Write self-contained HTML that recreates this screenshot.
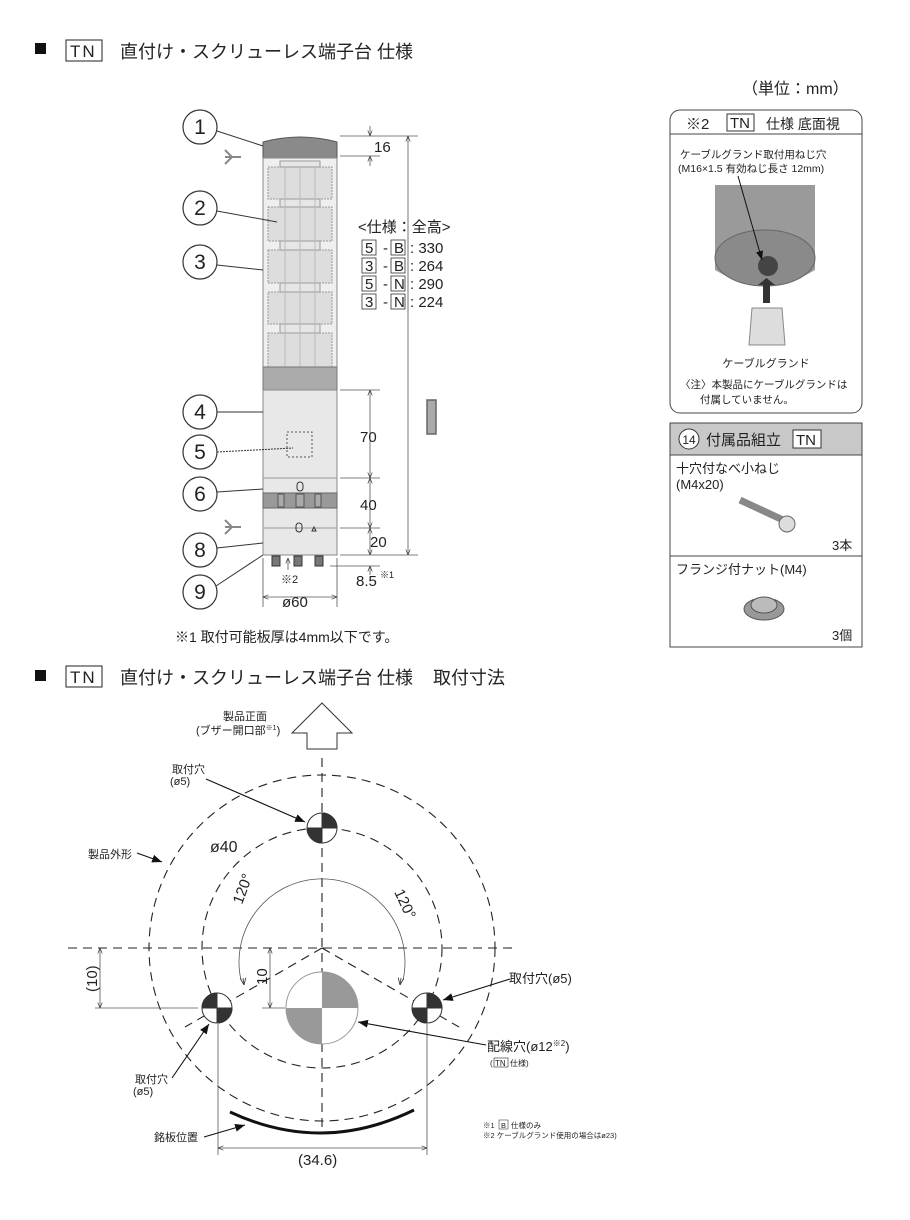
<!DOCTYPE html>
<html><head><meta charset="utf-8"><style>
html,body{margin:0;padding:0;background:#fff;}
svg{display:block;font-family:"Liberation Sans","Noto Sans CJK JP",sans-serif;}
</style></head><body>
<svg width="910" height="1220" viewBox="0 0 910 1220" xmlns="http://www.w3.org/2000/svg">
<defs>
<marker id="a" viewBox="0 0 10 10" refX="10" refY="5" markerWidth="7" markerHeight="7" orient="auto-start-reverse"><path d="M0,1 L10,5 L0,9" fill="none" stroke="#333" stroke-width="1.2"/></marker>
<marker id="f" viewBox="0 0 10 10" refX="10" refY="5" markerWidth="9" markerHeight="9" orient="auto"><path d="M0,1 L10,5 L0,9 z" fill="#111"/></marker>
</defs>
<!-- Title 1 -->
<rect x="35" y="43" width="11" height="11" fill="#111"/>
<rect x="66" y="40" width="36" height="21" fill="none" stroke="#222"/>
<text x="70" y="57" font-size="17" fill="#222" letter-spacing="2">TN</text>
<text x="120" y="58" font-size="18" fill="#222">直付け・スクリューレス端子台 仕様</text>
<text x="742" y="94" font-size="16" fill="#222">（単位：mm）</text>

<!-- Tower -->
<path d="M263,142 Q300,132 337,142 L337,158 L263,158 Z" fill="#8a8a8a" stroke="#555"/>
<rect x="263" y="158" width="74" height="232" fill="#efefef" stroke="#888"/>
<g fill="#ddd" stroke="#999" stroke-dasharray="2,1">
<rect x="268" y="167" width="64" height="32"/><rect x="268" y="207" width="64" height="34"/>
<rect x="268" y="250" width="64" height="33"/><rect x="268" y="292" width="64" height="32"/>
<rect x="268" y="333" width="64" height="34"/>
</g>
<g fill="#e6e6e6" stroke="#999"><rect x="280" y="161" width="40" height="6"/><rect x="280" y="199" width="40" height="8"/><rect x="280" y="241" width="40" height="9"/><rect x="280" y="283" width="40" height="9"/><rect x="280" y="324" width="40" height="9"/></g>
<g stroke="#bbb"><line x1="285" y1="167" x2="285" y2="367"/><line x1="300" y1="167" x2="300" y2="367"/><line x1="315" y1="167" x2="315" y2="367"/></g>
<rect x="263" y="367" width="74" height="23" fill="#aaa" stroke="#777"/>
<path d="M263,390 L337,390 L337,555 L263,555 Z" fill="#e8e8e8" stroke="#888"/>
<rect x="287" y="432" width="25" height="25" fill="none" stroke="#555" stroke-dasharray="2,2"/>
<line x1="263" y1="478" x2="337" y2="478" stroke="#999"/>
<rect x="297" y="482" width="6" height="9" rx="3" fill="none" stroke="#333"/>
<rect x="263" y="493" width="74" height="15" fill="#999" stroke="#666"/>
<g stroke="#555" fill="#aaa"><rect x="278" y="494" width="6" height="13"/><rect x="296" y="494" width="8" height="13"/><rect x="315" y="494" width="6" height="13"/></g>
<line x1="263" y1="528" x2="337" y2="528" stroke="#999"/>
<rect x="296" y="523" width="6" height="9" rx="3" fill="none" stroke="#333"/>
<path d="M312,531 l2,-4 l2,4z" fill="none" stroke="#333"/>
<g fill="#777" stroke="#333"><rect x="272" y="556" width="8" height="10"/><rect x="294" y="556" width="8" height="10"/><rect x="315" y="556" width="8" height="10"/></g>
<path d="M225,157 l16,0 M225,150 l7,7 l-7,7" stroke="#888" fill="none" stroke-width="2"/>
<path d="M225,527 l16,0 M225,520 l7,7 l-7,7" stroke="#888" fill="none" stroke-width="2"/>

<!-- Callouts -->
<g fill="#fff" stroke="#333" stroke-width="1.2">
<circle cx="200" cy="127" r="17"/><circle cx="200" cy="208" r="17"/><circle cx="200" cy="262" r="17"/><circle cx="200" cy="412" r="17"/><circle cx="200" cy="452" r="17"/><circle cx="200" cy="494" r="17"/><circle cx="200" cy="550" r="17"/><circle cx="200" cy="592" r="17"/>
</g>
<g font-size="21" fill="#222" text-anchor="middle">
<text x="200" y="134">1</text><text x="200" y="215">2</text><text x="200" y="269">3</text><text x="200" y="419">4</text><text x="200" y="459">5</text><text x="200" y="501">6</text><text x="200" y="557">8</text><text x="200" y="599">9</text>
</g>
<g stroke="#333" fill="none">
<line x1="217" y1="131" x2="263" y2="146"/><line x1="217" y1="211" x2="277" y2="222"/><line x1="217" y1="265" x2="263" y2="270"/>
<line x1="217" y1="412" x2="263" y2="412"/><path d="M217,452 L293,448" stroke-dasharray="2,1"/><line x1="217" y1="492" x2="263" y2="489"/><line x1="217" y1="548" x2="263" y2="543"/><line x1="216" y1="586" x2="263" y2="555"/>
</g>

<!-- Dimensions -->
<g stroke="#555" fill="none" stroke-width="0.8">
<line x1="340" y1="136" x2="380" y2="136"/><line x1="340" y1="156" x2="380" y2="156"/>
<line x1="370" y1="126" x2="370" y2="136" marker-end="url(#a)"/><line x1="370" y1="166" x2="370" y2="156" marker-end="url(#a)"/>
<line x1="380" y1="136" x2="418" y2="136"/>
<line x1="408" y1="136" x2="408" y2="555" marker-start="url(#a)" marker-end="url(#a)"/>
<line x1="340" y1="390" x2="380" y2="390"/><line x1="340" y1="478" x2="380" y2="478"/><line x1="340" y1="528" x2="380" y2="528"/><line x1="340" y1="555" x2="418" y2="555"/><line x1="330" y1="566" x2="380" y2="566"/>
<line x1="370" y1="390" x2="370" y2="478" marker-start="url(#a)" marker-end="url(#a)"/>
<line x1="370" y1="478" x2="370" y2="528" marker-start="url(#a)" marker-end="url(#a)"/>
<line x1="370" y1="528" x2="370" y2="555" marker-start="url(#a)" marker-end="url(#a)"/>
<line x1="370" y1="575" x2="370" y2="566" marker-end="url(#a)"/>
<line x1="263" y1="558" x2="263" y2="607"/><line x1="337" y1="558" x2="337" y2="607"/>
<line x1="263" y1="597" x2="337" y2="597" marker-start="url(#a)" marker-end="url(#a)"/>
<line x1="288" y1="570" x2="288" y2="558" marker-end="url(#a)"/>
</g>
<g fill="#222" font-size="15">
<text x="374" y="152">16</text><text x="360" y="442">70</text><text x="360" y="510">40</text><text x="370" y="547">20</text>
<text x="356" y="586">8.5</text><text x="380" y="578" font-size="9">※1</text>
<text x="281" y="583" font-size="11">※2</text><text x="282" y="607">ø60</text>
</g>
<g fill="#222" font-size="15">
<text x="358" y="232">&lt;仕様：全高&gt;</text>
<text x="365" y="253">5</text><text x="383" y="253">-</text><text x="394" y="253">B</text><text x="410" y="253">: 330</text>
<text x="365" y="271">3</text><text x="383" y="271">-</text><text x="394" y="271">B</text><text x="410" y="271">: 264</text>
<text x="365" y="289">5</text><text x="383" y="289">-</text><text x="394" y="289">N</text><text x="410" y="289">: 290</text>
<text x="365" y="307">3</text><text x="383" y="307">-</text><text x="394" y="307">N</text><text x="410" y="307">: 224</text>
</g>
<g fill="none" stroke="#333" stroke-width="0.8">
<rect x="362" y="240" width="14" height="15"/><rect x="391" y="240" width="14" height="15"/>
<rect x="362" y="258" width="14" height="15"/><rect x="391" y="258" width="14" height="15"/>
<rect x="362" y="276" width="14" height="15"/><rect x="391" y="276" width="14" height="15"/>
<rect x="362" y="294" width="14" height="15"/><rect x="391" y="294" width="14" height="15"/>
</g>
<rect x="427" y="400" width="9" height="34" fill="#aaa" stroke="#666" stroke-width="1.5"/>
<text x="175" y="642" font-size="14" fill="#222">※1  取付可能板厚は4mm以下です。</text>

<!-- Right panel 1 -->
<rect x="670" y="110" width="192" height="303" rx="10" fill="#fff" stroke="#444"/>
<line x1="670" y1="134" x2="862" y2="134" stroke="#444"/>
<text x="686" y="129" font-size="15" fill="#222">※2</text>
<rect x="727" y="114" width="27" height="17" fill="none" stroke="#333"/>
<text x="730" y="128" font-size="15" fill="#222">TN</text>
<text x="766" y="129" font-size="14" fill="#222">仕様  底面視</text>
<text x="680" y="158" font-size="10.5" fill="#222">ケーブルグランド取付用ねじ穴</text>
<text x="678" y="172" font-size="10.5" fill="#222">(M16×1.5  有効ねじ長さ 12mm)</text>
<path d="M715,185 L815,185 L815,270 Q765,300 715,270 Z" fill="#9a9a9a"/>
<ellipse cx="765" cy="258" rx="50" ry="28" fill="#8a8a8a" stroke="#666"/>
<circle cx="768" cy="266" r="10" fill="#444"/>
<line x1="738" y1="176" x2="762" y2="260" stroke="#111" marker-end="url(#f)"/>
<rect x="763" y="285" width="7" height="18" fill="#333"/><path d="M758,285 l8.5,-7 l8.5,7z" fill="#333"/>
<path d="M752,308 L782,308 L785,345 L749,345 Z" fill="#ddd" stroke="#888"/>
<text x="766" y="367" font-size="11" fill="#222" text-anchor="middle">ケーブルグランド</text>
<text x="680" y="388" font-size="10.5" fill="#222">〈注〉本製品にケーブルグランドは</text>
<text x="700" y="403" font-size="10.5" fill="#222">付属していません。</text>

<!-- Right panel 2 -->
<rect x="670" y="423" width="192" height="224" fill="#fff" stroke="#444"/>
<rect x="670" y="423" width="192" height="32" fill="#c8c8c8" stroke="#444"/>
<circle cx="689" cy="439" r="10" fill="#fff" stroke="#333"/>
<text x="689" y="444" font-size="12" text-anchor="middle" fill="#222">14</text>
<text x="706" y="445" font-size="15" fill="#222">付属品組立</text>
<rect x="793" y="430" width="28" height="18" fill="#fff" stroke="#333"/>
<text x="796" y="445" font-size="15" fill="#222">TN</text>
<text x="676" y="473" font-size="13" fill="#222">十穴付なべ小ねじ</text>
<text x="676" y="489" font-size="13" fill="#222">(M4x20)</text>
<line x1="740" y1="500" x2="783" y2="520" stroke="#888" stroke-width="7"/>
<circle cx="787" cy="524" r="8" fill="#ddd" stroke="#666"/>
<text x="832" y="550" font-size="13" fill="#222">3本</text>
<line x1="670" y1="556" x2="862" y2="556" stroke="#444"/>
<text x="676" y="574" font-size="13" fill="#222">フランジ付ナット(M4)</text>
<ellipse cx="764" cy="609" rx="20" ry="11" fill="#999" stroke="#555"/>
<ellipse cx="764" cy="605" rx="13" ry="8" fill="#bbb" stroke="#555"/>
<text x="832" y="640" font-size="13" fill="#222">3個</text>

<!-- Title 2 -->
<rect x="35" y="670" width="11" height="11" fill="#111"/>
<rect x="66" y="666" width="36" height="21" fill="none" stroke="#222"/>
<text x="70" y="683" font-size="17" fill="#222" letter-spacing="2">TN</text>
<text x="120" y="684" font-size="18" fill="#222">直付け・スクリューレス端子台 仕様</text>
<text x="433" y="684" font-size="18" fill="#222">取付寸法</text>

<!-- Bottom diagram -->
<path d="M322,703 L352,733 L337,733 L337,749 L307,749 L307,733 L292,733 Z" fill="#fff" stroke="#333"/>
<text x="245" y="720" font-size="11" fill="#222" text-anchor="middle">製品正面</text>
<text x="196" y="734" font-size="11" fill="#222">(ブザー開口部<tspan font-size="7" dy="-4">※1</tspan><tspan dy="4">)</tspan></text>
<g fill="none" stroke="#222" stroke-width="1.1" stroke-dasharray="9,6">
<circle cx="322" cy="948" r="173"/>
<circle cx="322" cy="948" r="120"/>
<line x1="322" y1="758" x2="322" y2="1132"/>
<line x1="68" y1="948" x2="518" y2="948"/>
<line x1="322" y1="948" x2="185" y2="1027"/>
<line x1="322" y1="948" x2="459" y2="1027"/>
</g>
<path d="M241,980 A83,83 0 1 1 403,980" fill="none" stroke="#555" stroke-width="0.8"/>
<line x1="244" y1="985" x2="243" y2="978" stroke="#555" marker-start="url(#a)"/>
<line x1="400" y1="985" x2="401" y2="978" stroke="#555" marker-start="url(#a)"/>
<text x="242" y="905" font-size="15" fill="#222" transform="rotate(-70 242 905)">120°</text>
<text x="394" y="892" font-size="15" fill="#222" transform="rotate(65 394 892)">120°</text>
<text x="210" y="852" font-size="16" fill="#222">ø40</text>
<g stroke="#333">
<circle cx="322" cy="828" r="15" fill="#fff"/><path d="M322,828 L322,813 A15,15 0 0 1 337,828 Z M322,828 L322,843 A15,15 0 0 1 307,828 Z" fill="#333"/>
<circle cx="217" cy="1008" r="15" fill="#fff"/><path d="M217,1008 L217,993 A15,15 0 0 0 202,1008 Z M217,1008 L217,1023 A15,15 0 0 0 232,1008 Z" fill="#333"/>
<circle cx="427" cy="1008" r="15" fill="#fff"/><path d="M427,1008 L427,993 A15,15 0 0 1 442,1008 Z M427,1008 L427,1023 A15,15 0 0 1 412,1008 Z" fill="#333"/>
</g>
<circle cx="322" cy="1008" r="36" fill="#fff" stroke="#999"/>
<path d="M322,1008 L322,972 A36,36 0 0 1 358,1008 Z M322,1008 L322,1044 A36,36 0 0 1 286,1008 Z" fill="#999"/>
<g stroke="#555" fill="none" stroke-width="0.8">
<line x1="95" y1="1008" x2="198" y2="1008"/><line x1="100" y1="948" x2="100" y2="1008" marker-start="url(#a)" marker-end="url(#a)"/>
<line x1="262" y1="1008" x2="285" y2="1008"/><line x1="270" y1="948" x2="270" y2="1008" marker-start="url(#a)" marker-end="url(#a)"/>
<line x1="218" y1="1024" x2="218" y2="1155"/><line x1="427" y1="1024" x2="427" y2="1155"/>
<line x1="218" y1="1148" x2="427" y2="1148" marker-start="url(#a)" marker-end="url(#a)"/>
</g>
<text x="97" y="992" font-size="15" fill="#222" transform="rotate(-90 97 992)">(10)</text>
<text x="267" y="985" font-size="15" fill="#222" transform="rotate(-90 267 985)">10</text>
<text x="298" y="1165" font-size="15" fill="#222">(34.6)</text>
<path d="M230,1112 Q322,1155 414,1110" fill="none" stroke="#111" stroke-width="3"/>
<g stroke="#111" stroke-width="1.1" fill="none">
<line x1="206" y1="779" x2="305" y2="822" marker-end="url(#f)"/>
<line x1="137" y1="853" x2="162" y2="862" marker-end="url(#f)"/>
<line x1="510" y1="979" x2="443" y2="1000" marker-end="url(#f)"/>
<line x1="486" y1="1045" x2="358" y2="1022" marker-end="url(#f)"/>
<line x1="172" y1="1078" x2="209" y2="1024" marker-end="url(#f)"/>
<line x1="204" y1="1137" x2="245" y2="1125" marker-end="url(#f)"/>
</g>
<g fill="#222" font-size="11">
<text x="172" y="773">取付穴</text><text x="170" y="785">(ø5)</text>
<text x="88" y="858">製品外形</text>
<text x="509" y="983" font-size="13">取付穴(ø5)</text>
<text x="487" y="1051" font-size="13">配線穴(ø12<tspan font-size="8" dy="-5">※2</tspan><tspan dy="5">)</tspan></text>
<text x="490" y="1066" font-size="8">(</text><rect x="494" y="1058" width="14" height="9" fill="none" stroke="#444" stroke-width="0.7"/><text x="495" y="1066" font-size="8">TN</text><text x="510" y="1066" font-size="8">仕様)</text>
<text x="135" y="1083">取付穴</text><text x="133" y="1095">(ø5)</text>
<text x="154" y="1141">銘板位置</text>
<text x="483" y="1128" font-size="7.5">※1 </text><rect x="499" y="1120" width="9" height="9" fill="none" stroke="#444" stroke-width="0.6"/><text x="501" y="1128" font-size="7.5">B</text><text x="511" y="1128" font-size="7.5">仕様のみ</text>
<text x="483" y="1138" font-size="7.5">※2 ケーブルグランド使用の場合はø23)</text>
</g>
</svg>
</body></html>
